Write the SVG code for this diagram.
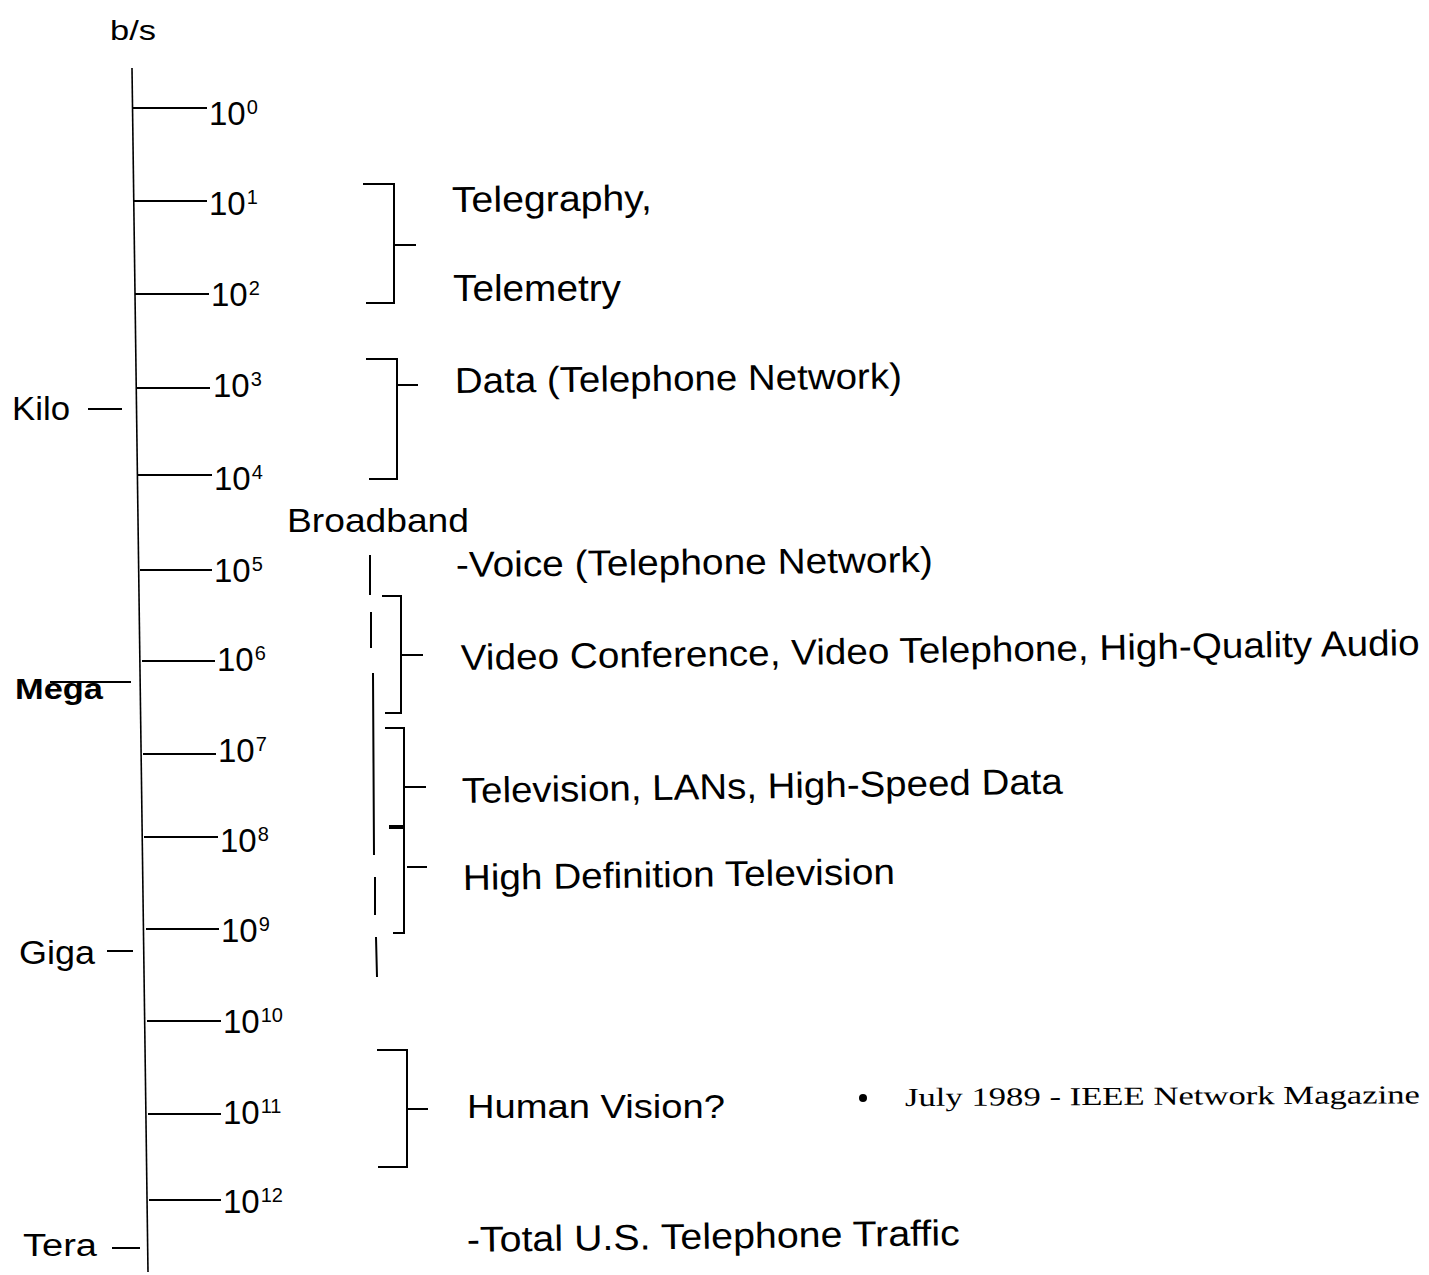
<svg xmlns="http://www.w3.org/2000/svg" width="1429" height="1275" viewBox="0 0 1429 1275">
<style>
.ln{stroke:#000;stroke-width:2;fill:none;stroke-linecap:butt}
.ax{stroke:#000;stroke-width:1.6;fill:none}
.t{font-family:"Liberation Sans",Arial,Helvetica,sans-serif;fill:#000}
.lab{font-size:36px}
.num{font-size:33px}
.sup{font-size:20px}
.side{font-size:34px}
.src{font-family:"Liberation Serif","Times New Roman",serif;font-size:26px;fill:#000}
</style>
<rect width="1429" height="1275" fill="#fff"/>
<g id="connectors">
  <line id="axis" class="ax" x1="132" y1="68" x2="148" y2="1272"/>
  <g id="ticks">
    <line class="ln" x1="133" y1="108" x2="207" y2="108"/>
    <line class="ln" x1="133" y1="201" x2="207" y2="201"/>
    <line class="ln" x1="135" y1="294" x2="209" y2="294"/>
    <line class="ln" x1="137" y1="388" x2="210" y2="388"/>
    <line class="ln" x1="138" y1="475" x2="212" y2="475"/>
    <line class="ln" x1="140" y1="570" x2="212" y2="570"/>
    <line class="ln" x1="142" y1="661" x2="215" y2="661"/>
    <line class="ln" x1="143" y1="754" x2="216" y2="754"/>
    <line class="ln" x1="144" y1="837" x2="218" y2="837"/>
    <line class="ln" x1="146" y1="929" x2="219" y2="929"/>
    <line class="ln" x1="147" y1="1021" x2="221" y2="1021"/>
    <line class="ln" x1="148" y1="1114" x2="221" y2="1114"/>
    <line class="ln" x1="149" y1="1200" x2="221" y2="1200"/>
  </g>
  <g id="unit-dashes">
    <line class="ln" x1="88" y1="409" x2="122" y2="409"/>
    <line class="ln" x1="50" y1="682" x2="131" y2="682"/>
    <line class="ln" x1="107" y1="951" x2="133" y2="951"/>
    <line class="ln" x1="112" y1="1248" x2="140" y2="1248"/>
  </g>
  <g id="brackets">
    <path class="ln" d="M363,184 H394 V303 H366 M395,245 H416"/>
    <path class="ln" d="M366,359 H397 V479 H369 M398,385 H418"/>
    <path class="ln" d="M370,555 V595 M371,612 V648 M373,673 L374,855 M375,877 V915 M376,937 L377,977"/>
    <path class="ln" d="M382,596 H401 V713 H385 M402,655 H423"/>
    <path class="ln" d="M385,728 H404 V933 H393 M404,787 H426 M407,867 H427"/>
    <line x1="389" y1="827" x2="404" y2="827" stroke="#000" stroke-width="4"/>
    <path class="ln" d="M377,1050 H407 V1167 H378 M408,1109 H428"/>
  </g>
</g>
<g id="unit-label"><text class="t" x="110" y="40" font-size="27" textLength="46" lengthAdjust="spacingAndGlyphs">b/s</text></g>
<g id="scale-labels">
  <text class="t num" x="209" y="125">10<tspan class="sup" dx="1" dy="-11">0</tspan></text>
  <text class="t num" x="209" y="215">10<tspan class="sup" dx="1" dy="-11">1</tspan></text>
  <text class="t num" x="211" y="306">10<tspan class="sup" dx="1" dy="-11">2</tspan></text>
  <text class="t num" x="213" y="397">10<tspan class="sup" dx="1" dy="-11">3</tspan></text>
  <text class="t num" x="214" y="490">10<tspan class="sup" dx="1" dy="-11">4</tspan></text>
  <text class="t num" x="214" y="582">10<tspan class="sup" dx="1" dy="-11">5</tspan></text>
  <text class="t num" x="217" y="671">10<tspan class="sup" dx="1" dy="-11">6</tspan></text>
  <text class="t num" x="218" y="762">10<tspan class="sup" dx="1" dy="-11">7</tspan></text>
  <text class="t num" x="220" y="852">10<tspan class="sup" dx="1" dy="-11">8</tspan></text>
  <text class="t num" x="221" y="942">10<tspan class="sup" dx="1" dy="-11">9</tspan></text>
  <text class="t num" x="223" y="1033">10<tspan class="sup" dx="1" dy="-11">10</tspan></text>
  <text class="t num" x="223" y="1124">10<tspan class="sup" dx="1" dy="-11">11</tspan></text>
  <text class="t num" x="223" y="1213">10<tspan class="sup" dx="1" dy="-11">12</tspan></text>
</g>
<g id="kilo"><text class="t side" x="12" y="420" textLength="58" lengthAdjust="spacingAndGlyphs">Kilo</text></g>
<g id="mega"><text class="t" x="15" y="699" font-size="30" font-weight="bold" textLength="88" lengthAdjust="spacingAndGlyphs">Mega</text></g>
<g id="giga"><text class="t side" x="19" y="964" textLength="76" lengthAdjust="spacingAndGlyphs">Giga</text></g>
<g id="tera"><text class="t" x="23" y="1256" font-size="31" textLength="74" lengthAdjust="spacingAndGlyphs">Tera</text></g>
<g id="telegraphy"><text class="t lab" x="452" y="212" textLength="200" lengthAdjust="spacingAndGlyphs" transform="rotate(-0.5 452 212)">Telegraphy,</text></g>
<g id="telemetry"><text class="t lab" x="453" y="301" textLength="168" lengthAdjust="spacingAndGlyphs">Telemetry</text></g>
<g id="data"><text class="t lab" x="455" y="393" textLength="447" lengthAdjust="spacingAndGlyphs" transform="rotate(-0.6 455 393)">Data (Telephone Network)</text></g>
<g id="broadband"><text class="t" x="287" y="532" font-size="34" textLength="182" lengthAdjust="spacingAndGlyphs">Broadband</text></g>
<g id="voice"><text class="t lab" x="456" y="577" textLength="477" lengthAdjust="spacingAndGlyphs" transform="rotate(-0.6 456 577)">-Voice (Telephone Network)</text></g>
<g id="video"><text class="t lab" x="461" y="670" textLength="959" lengthAdjust="spacingAndGlyphs" transform="rotate(-0.9 461 670)">Video Conference, Video Telephone, High-Quality Audio</text></g>
<g id="television"><text class="t lab" x="462" y="803" textLength="601" lengthAdjust="spacingAndGlyphs" transform="rotate(-0.9 462 803)">Television, LANs, High-Speed Data</text></g>
<g id="hdtv"><text class="t lab" x="463" y="890" textLength="432" lengthAdjust="spacingAndGlyphs" transform="rotate(-0.8 463 890)">High Definition Television</text></g>
<g id="human"><text class="t" x="467" y="1118" font-size="34" textLength="258" lengthAdjust="spacingAndGlyphs">Human Vision?</text></g>
<g id="source">
  <circle cx="863" cy="1098" r="4" fill="#000"/>
  <text class="src" x="905" y="1106" textLength="515" lengthAdjust="spacingAndGlyphs" transform="rotate(-0.3 905 1106)">July 1989 - IEEE Network Magazine</text>
</g>
<g id="total"><text class="t lab" x="467" y="1252" textLength="493" lengthAdjust="spacingAndGlyphs" transform="rotate(-0.8 467 1252)">-Total U.S. Telephone Traffic</text></g>
</svg>
